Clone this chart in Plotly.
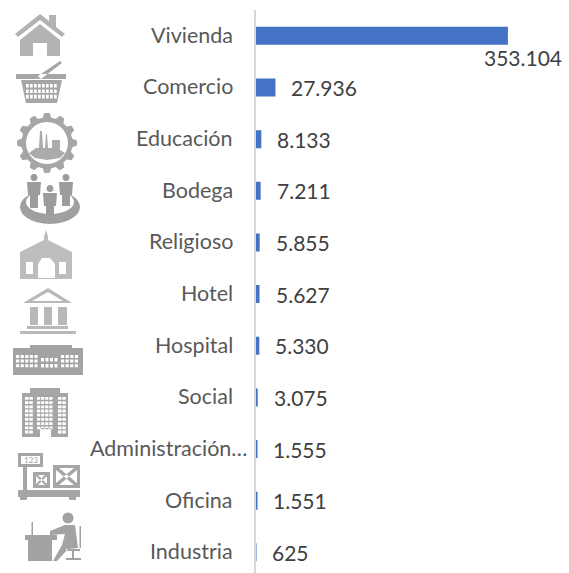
import math
import re
import plotly.graph_objects as go

categories = ["Vivienda", "Comercio", "Educación", "Bodega", "Religioso", "Hotel",
              "Hospital", "Social", "Administración…", "Oficina", "Industria"]
values = [353104, 27936, 8133, 7211, 5855, 5627, 5330, 3075, 1555, 1551, 625]
value_labels = ["353.104", "27.936", "8.133", "7.211", "5.855", "5.627",
                "5.330", "3.075", "1.555", "1.551", "625"]

W, H = 569, 573
FONT = "Lato, Carlito, Calibri, sans-serif"


def to_paper(path):
    """Decorative pictograms are authored in pixels, converted to paper units."""
    toks = re.findall(r"[MLZ]|-?\d+\.?\d*", path)
    out, i = [], 0
    while i < len(toks):
        t = toks[i]
        if t in "MLZ":
            out.append(t)
            i += 1
        else:
            x, y = float(toks[i]), float(toks[i + 1])
            out.append(f"{x / W:.5f},{1 - y / H:.5f}")
            i += 2
    return " ".join(out)


def poly(*pts):
    return "M" + " L".join(f"{x},{y}" for x, y in pts) + " Z "


def rect(x0, y0, x1, y1):
    return poly((x0, y0), (x1, y0), (x1, y1), (x0, y1))


def ell(cx, cy, rx, ry=None, n=28):
    ry = rx if ry is None else ry
    return poly(*[(round(cx + rx * math.cos(2 * math.pi * k / n), 2),
                   round(cy + ry * math.sin(2 * math.pi * k / n), 2)) for k in range(n)])


def grid(x0, y0, cols, rows, w, h, dx, dy):
    return "".join(rect(x0 + c * dx, y0 + r * dy, x0 + c * dx + w, y0 + r * dy + h)
                   for c in range(cols) for r in range(rows))


shapes = []


def icon(path, color):
    shapes.append(dict(type="path", path=to_paper(path), xref="paper", yref="paper",
                       fillcolor=color, line=dict(width=0), layer="above"))


# house
icon(poly((15, 34), (40, 14), (49, 21), (49, 15), (56, 15), (56, 27), (65, 34), (62, 37), (40, 20), (18, 37))
     + poly((40, 24), (60, 40), (60, 56), (47, 56), (47, 43), (33, 43), (33, 56), (20, 56), (20, 40)), "#b3b3b3")
# basket
icon(rect(16, 74, 66, 79) + poly((21, 80), (62, 80), (57, 103), (26, 103)) + grid(26, 84, 8, 3, 2.7, 3.6, 4, 5.4)
     + poly((38, 76), (60, 61), (62, 63), (41, 79)), "#a6a6a6")
# gear with factory
gear = []
for k in range(72):
    a = 2 * math.pi * k / 72
    r = 30 if (k % 6) in (0, 1, 5) else 25.5
    gear.append((round(47 + r * math.cos(a), 2), round(143 + r * math.sin(a), 2)))
icon(poly(*gear) + ell(47, 143, 21), "#a6a6a6")
icon(poly((29, 153), (36, 148), (39, 148), (40, 131), (42, 131), (43, 148), (45, 148), (46, 134), (47, 134), (48, 148),
          (52, 148), (52, 140), (60, 140), (60, 150), (65, 153), (60, 158), (47, 160), (35, 158)), "#ababab")
# people on a ring
icon(ell(50, 207, 30, 17) + ell(50, 202, 24, 12), "#a0a0a0")
for cx, top, bot in ((34, 174, 208), (50, 185, 216), (66, 174, 206)):
    icon(ell(cx, top + 3.5, 3.5, 3.5) + poly((cx - 7, top + 8), (cx + 7, top + 8), (cx + 6, top + 21), (cx + 4, top + 21),
                                              (cx + 4, bot), (cx - 4, bot), (cx - 4, top + 21), (cx - 6, top + 21)), "#9c9c9c")
# church
icon(poly((46, 230), (48, 236), (48, 240), (72, 252), (72, 279), (20, 279), (20, 252), (44, 240), (44, 236))
     + poly((38, 278), (38, 264), (42, 258), (50, 258), (55, 264), (55, 278))
     + rect(26, 262, 33, 274) + rect(59, 262, 66, 274), "#bdbdbd")
# temple
icon(poly((48, 288), (72, 303), (23, 303)) + poly((48, 292), (63, 301), (32, 301))
     + rect(30, 307, 38, 325) + rect(44, 307, 52, 325) + rect(58, 307, 67, 325)
     + rect(27, 326, 68, 329) + rect(20, 331, 76, 334), "#b8b8b8")
# hospital
icon(rect(30, 345, 72, 348) + rect(13, 348, 83, 375) + grid(16, 355, 5, 3, 3.2, 3, 4.6, 4.6) + grid(61, 355, 4, 3, 3.2, 3, 4.6, 4.6)
     + grid(41, 358, 4, 2, 3, 3.5, 4.5, 6), "#a3a3a3")
# office block
icon(rect(30, 388, 60, 393) + rect(22, 393, 68, 437) + grid(25, 397, 2, 9, 3.5, 2.8, 4.3, 4.2) + grid(37, 397, 4, 8, 3.2, 2.8, 4.1, 4.2)
     + grid(58, 397, 2, 9, 3.5, 2.8, 4.3, 4.2) + rect(40, 428, 51, 437), "#a6a6a6")
# scale and boxes
icon(rect(18, 453, 43, 467) + rect(21, 456, 40, 464) + rect(23, 467, 27, 490) + rect(18, 490, 80, 497) + rect(20, 497, 27, 500) + rect(69, 497, 76, 500)
     + rect(33, 472, 50, 488) + rect(36, 475, 47, 485) + rect(53, 465, 80, 488) + rect(56, 468, 77, 485), "#a6a6a6")
icon(poly((36, 475), (38, 475), (47, 484), (47, 485), (45, 485), (36, 476)) + poly((47, 475), (45, 475), (36, 484), (36, 485), (38, 485), (47, 476))
     + poly((56, 468), (59, 468), (77, 483), (77, 485), (74, 485), (56, 470)) + poly((77, 468), (74, 468), (56, 483), (56, 485), (59, 485), (77, 470)), "#a6a6a6")
# desk worker
icon(ell(68, 518, 5.5) + poly((50, 531), (65, 525), (75, 525), (78, 548), (68, 549), (57, 561), (53, 561), (62, 545), (65, 534), (50, 535))
     + rect(25, 535, 57, 540) + rect(28, 540, 52, 561) + rect(31.5, 522, 33, 535) + rect(79.5, 526, 81, 548)
     + rect(66, 549, 80, 551) + rect(72, 551, 74, 558) + rect(66, 558, 81, 560), "#a3a3a3")

annotations = [dict(x=v, y=c, text=t, xref="x", yref="y", xanchor="left", yanchor="middle", showarrow=False,
                    xshift=14, yshift=0, font=dict(family=FONT, size=21, color="#404040"))
               for c, v, t in zip(categories[1:], values[1:], value_labels[1:])]
annotations.append(dict(x=values[0], y=categories[0], text=value_labels[0], xref="x", yref="y", xanchor="right",
                        yanchor="middle", showarrow=False, xshift=56, yshift=-22,
                        font=dict(family=FONT, size=21, color="#404040")))
# Category labels: the long one runs closer to the axis, as in the original
annotations += [dict(x=0, y=c, text=c, xref="x", yref="y", xanchor="right", yanchor="middle", showarrow=False,
                     xshift=-7 if c.endswith("…") else -21, yshift=1,
                     font=dict(family=FONT, size=21.5, color="#595959"))
                for c in categories]
annotations.append(dict(x=31 / W, y=1 - 460 / H, text="123", xref="paper", yref="paper", xanchor="center",
                        yanchor="middle", showarrow=False, font=dict(family=FONT, size=8, color="#a6a6a6")))

fig = go.Figure(go.Bar(x=values, y=categories, orientation="h", width=18 / 51.65,
                       marker=dict(color="#4472C4", line=dict(width=0)), hoverinfo="skip"))
fig.update_layout(
    width=W, height=H, margin=dict(l=0, r=0, t=0, b=0, autoexpand=False),
    paper_bgcolor="white", plot_bgcolor="white", showlegend=False,
    shapes=shapes, annotations=annotations,
    xaxis=dict(domain=[255.5 / W, 1], range=[0, 438574], visible=False, fixedrange=True),
    yaxis=dict(domain=[0, 1 - 10 / H], type="category", categoryorder="array", categoryarray=categories,
               range=[10.4, -0.5], showline=True, linecolor="#d9d9d9", linewidth=2, showgrid=False, zeroline=False,
               ticks="", showticklabels=False, automargin=False, fixedrange=True),
)
fig.write_html("out.html", config=dict(displayModeBar=False),
               post_script="document.body.style.margin='0';document.documentElement.style.overflow='hidden';")
